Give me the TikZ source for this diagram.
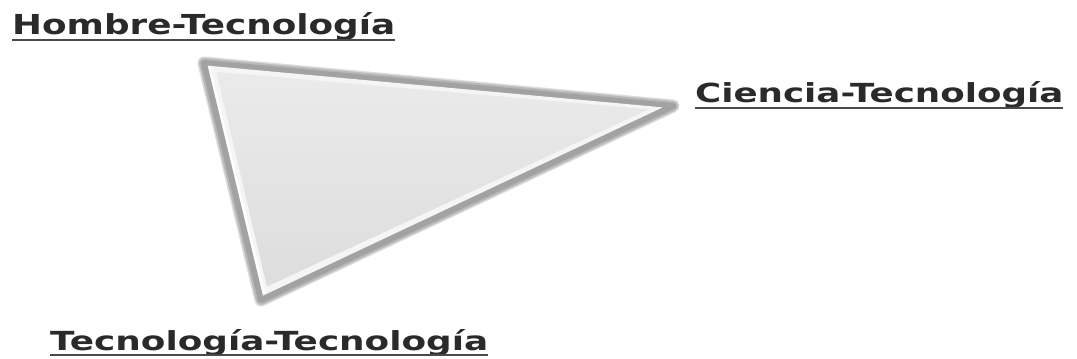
\documentclass[tikz,border=0pt]{standalone}
\usepackage{fontspec}
\setmainfont{DejaVu Sans}
\usetikzlibrary{calc}
\definecolor{rim}{HTML}{A2A2A2}
\definecolor{face}{HTML}{DDDDDD}
\definecolor{ink}{HTML}{2A2A2A}
\tikzset{
  lbl/.style={inner sep=0pt, anchor=base west, text=ink, font=\bfseries\fontsize{26}{26}\selectfont},
  uline/.style={draw=ink!85, line width=2pt},
}
\begin{document}
\begin{tikzpicture}[x=1pt,y=1pt]
\useasboundingbox (0,0) rectangle (1077,359);
\fill[white] (0,0) rectangle (1077,359);
% triangle vertices
\coordinate (A) at (204,296);
\coordinate (B) at (673,253);
\coordinate (C) at (261,59);
% soft outer rim
\draw[rim!40, line width=13pt, line join=round] (A) -- (B) -- (C) -- cycle;
\draw[rim!75, line width=10pt, line join=round] (A) -- (B) -- (C) -- cycle;
\draw[rim, line width=6pt, line join=round] (A) -- (B) -- (C) -- cycle;
% face
\coordinate (G) at ($(A)!0.333!(B)!0.333!(C)$);
\fill[white!70!face] ($(A)!0.03!(G)$) -- ($(B)!0.03!(G)$) -- ($(C)!0.03!(G)$) -- cycle;
\shade[top color=face!60, bottom color=face] ($(A)!0.10!(G)$) -- ($(B)!0.07!(G)$) -- ($(C)!0.09!(G)$) -- cycle;
\draw[white, line width=2pt] ($(A)!0.045!(G)$) -- ($(C)!0.045!(G)$);
% labels
\node[lbl] (h) at (12,324) {\resizebox{383pt}{22pt}{Hombre-Tecnología}};
\node[lbl] (c) at (695,256) {\resizebox{368pt}{21pt}{Ciencia-Tecnología}};
\node[lbl] (t) at (50,9) {\resizebox{438pt}{21pt}{Tecnología-Tecnología}};
\draw[uline] ([yshift=-5pt]h.base west) -- ([yshift=-5pt]h.base east);
\draw[uline] ([yshift=-5pt]c.base west) -- ([yshift=-5pt]c.base east);
\draw[uline] ([yshift=-5pt]t.base west) -- ([yshift=-5pt]t.base east);
\end{tikzpicture}
\end{document}
